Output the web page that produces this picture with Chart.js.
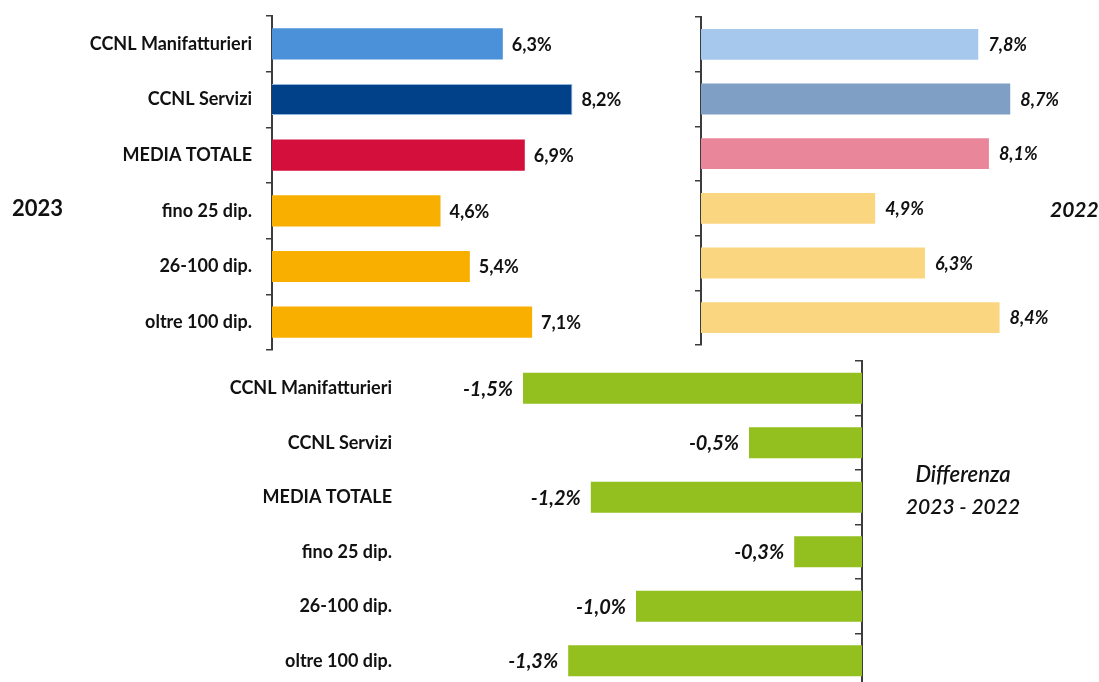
<!DOCTYPE html>
<html lang="it">
<head>
<meta charset="utf-8">
<script src="https://cdn.jsdelivr.net/npm/chart.js@4"></script>
<style>
  html, body { margin: 0; padding: 0; background: #fff; overflow: hidden; }
  #page { position: relative; width: 1099px; height: 682px; overflow: hidden; font-family: Lato, sans-serif; color: #111; }
  canvas { position: absolute; }
  .title { position: absolute; line-height: 1; white-space: nowrap; }
</style>
</head>
<body>
<div id="page">
  <canvas id="chart2023" width="675" height="360" style="left:0;top:0"></canvas>
  <canvas id="chart2022" width="402" height="355" style="left:690px;top:0"></canvas>
  <canvas id="chartDiff" width="880" height="340" style="left:0;top:350px"></canvas>
  <div class="title" style="left:12px;top:197px;font-size:22px;font-weight:bold">2023</div>
  <div class="title" style="left:1050px;top:198px;font-size:21px;font-weight:bold;font-style:italic">2022</div>
  <div class="title" style="left:863px;top:463px;width:200px;text-align:center;font-size:22px;font-style:italic;font-weight:600">Differenza</div>
  <div class="title" style="left:863px;top:495px;width:200px;text-align:center;font-size:21px;font-style:italic;font-weight:600">2023 - 2022</div>
</div>
<script>
const categories = ['CCNL Manifatturieri', 'CCNL Servizi', 'MEDIA TOTALE', 'fino 25 dip.', '26-100 dip.', 'oltre 100 dip.'];
const values2023 = [6.3, 8.2, 6.9, 4.6, 5.4, 7.1];
const values2022 = [7.8, 8.7, 8.1, 4.9, 6.3, 8.4];
const difference = [-1.5, -0.5, -1.2, -0.3, -1.0, -1.3];

const colors2023 = ['#4b91da', '#00418a', '#d40f3c', '#f8af00', '#f8af00', '#f8af00'];
const colors2022 = ['#a6c8ec', '#7fa0c4', '#ea869a', '#fad681', '#fad681', '#fad681'];
const diffColor = '#93bf1f';

Chart.defaults.font.family = 'Lato, sans-serif';
Chart.defaults.color = '#111';

const axisColor = '#3c3c3c';

// writes "6,3%" style labels next to the end of each bar
const valueLabels = {
  id: 'valueLabels',
  afterDatasetsDraw(chart, args, opts) {
    const ctx = chart.ctx;
    const values = chart.data.datasets[0].data;
    ctx.save();
    ctx.font = opts.font;
    ctx.fillStyle = '#111';
    ctx.textBaseline = 'middle';
    chart.getDatasetMeta(0).data.forEach((bar, i) => {
      const v = values[i];
      const text = v.toFixed(1).replace('.', ',') + '%';
      if (v < 0) {
        ctx.textAlign = 'right';
        ctx.fillText(text, bar.x - opts.gap, bar.y + 1);
      } else {
        ctx.textAlign = 'left';
        ctx.fillText(text, bar.x + opts.gap, bar.y + 1);
      }
    });
    ctx.restore();
  }
};

// fixed axis width, and no extra room reserved above/below for the tick labels
function fixWidth(w) {
  return s => {
    s.width = w;
    s.paddingTop = 0;
    s.paddingBottom = 0;
  };
}

function barChart(id, values, colors, opts) {
  return new Chart(document.getElementById(id), {
    type: 'bar',
    data: {
      labels: categories,
      datasets: [{
        data: values,
        backgroundColor: colors,
        borderColor: opts.borderColor || 'transparent',
        borderWidth: opts.borderWidth || 0,
        borderSkipped: 'start',
        barPercentage: opts.barPct,
        categoryPercentage: 1,
        xAxisID: 'x',
        yAxisID: 'y'
      }]
    },
    options: {
      indexAxis: 'y',
      responsive: false,
      animation: false,
      layout: { padding: opts.padding },
      plugins: {
        legend: { display: false },
        tooltip: { enabled: false },
        valueLabels: { font: opts.labelFont, gap: opts.gap }
      },
      scales: opts.scales
    },
    plugins: [valueLabels]
  });
}

const yGrid = { drawOnChartArea: false, drawTicks: true, tickLength: 6, color: axisColor, lineWidth: 1.5 };
const yBorder = { color: axisColor, width: 2 };
const catFont = { size: 18, weight: 'bold' };

barChart('chart2023', values2023, colors2023, {
  barPct: 0.56,
  padding: { top: 16, bottom: 10, left: 0, right: 0 },
  labelFont: 'bold 18px Lato',
  gap: 9,
  borderColor: ['transparent', '#8fb4dc', 'transparent', 'transparent', 'transparent', 'transparent'],
  borderWidth: [0, 1, 0, 0, 0, 0],
  scales: {
    x: { display: false, min: 0, max: 11 },
    y: {
      offset: true,
      grid: yGrid,
      border: yBorder,
      ticks: { font: catFont, color: '#111', padding: 14 },
      afterFit: fixWidth(272)
    }
  }
});

barChart('chart2022', values2022, colors2022, {
  barPct: 0.565,
  padding: { top: 17, bottom: 10, left: 0, right: 0 },
  labelFont: 'italic bold 18px Lato',
  gap: 10,
  scales: {
    x: { display: false, min: 0, max: 11 },
    y: {
      offset: true,
      grid: yGrid,
      border: yBorder,
      ticks: { display: false },
      afterFit: fixWidth(11)
    }
  }
});

barChart('chartDiff', difference, diffColor, {
  barPct: 0.57,
  padding: { top: 11, bottom: 2, left: 0, right: 18 },
  labelFont: 'italic bold 20px Lato',
  gap: 10,
  scales: {
    x: { display: false, min: -2, max: 0 },
    y: {
      position: { x: 0 },
      offset: true,
      grid: yGrid,
      border: yBorder,
      ticks: { display: false }
    },
    yLabels: {
      type: 'category',
      axis: 'y',
      position: 'left',
      offset: true,
      grid: { display: false, drawTicks: false },
      border: { display: false },
      ticks: { font: catFont, color: '#111', padding: 18 },
      afterFit: fixWidth(410)
    }
  }
});
</script>
</body>
</html>
